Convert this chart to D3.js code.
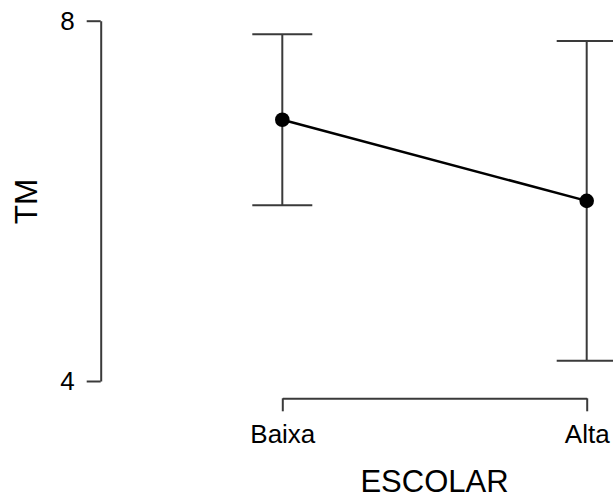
<!DOCTYPE html>
<html>
<head>
<meta charset="utf-8">
<script src="https://cdn.jsdelivr.net/npm/d3@7"></script>
<style>
  html, body { margin: 0; padding: 0; background: #fff; }
  svg { display: block; font-family: "Liberation Sans", Arial, sans-serif; }
</style>
</head>
<body>
<script>
// Mean TM by education level with confidence intervals
const categories = ["Baixa", "Alta"];
const means = [6.9, 6.0];
const lower = [5.95, 4.225];
const upper = [7.85, 7.775];
const yTicks = [4, 8];

const width = 613, height = 500;
const svg = d3.select("body").append("svg")
  .attr("width", width).attr("height", height);

const x = d3.scalePoint().domain(categories).range([282.3, 586.7]);
const y = d3.scaleLinear().domain([4, 8]).range([381, 20.7]);

const axisColor = "#3a3a3a";

// Y axis
const gy = svg.append("g")
  .attr("transform", "translate(100.7,0)")
  .call(d3.axisLeft(y).tickValues(yTicks).tickFormat(d3.format("d"))
    .tickSize(14).tickSizeOuter(0).tickPadding(12));
gy.select(".domain").attr("stroke", axisColor).attr("stroke-width", 2);
gy.selectAll(".tick line").attr("stroke", axisColor).attr("stroke-width", 2);
gy.selectAll(".tick text").attr("font-size", 26).attr("fill", "#000")
  .attr("font-family", "Liberation Sans, Arial, sans-serif");

// X axis
const gx = svg.append("g")
  .attr("transform", "translate(0,398.3)")
  .call(d3.axisBottom(x).tickSize(13).tickSizeOuter(0).tickPadding(13));
gx.select(".domain").attr("stroke", axisColor).attr("stroke-width", 2);
gx.selectAll(".tick line").attr("stroke", axisColor).attr("stroke-width", 2);
gx.selectAll(".tick text").attr("font-size", 26).attr("fill", "#000")
  .attr("font-family", "Liberation Sans, Arial, sans-serif");

// Axis titles
svg.append("text")
  .attr("x", 434.5).attr("y", 492)
  .attr("text-anchor", "middle")
  .attr("font-size", 31)
  .text("ESCOLAR");

svg.append("text")
  .attr("transform", "translate(37,201.5) rotate(-90)")
  .attr("text-anchor", "middle")
  .attr("font-size", 31.5)
  .text("TM");

// Error bars
const capHalf = 30;
const bars = svg.append("g").attr("stroke", axisColor).attr("stroke-width", 2);
categories.forEach((c, i) => {
  const cx = x(c);
  bars.append("line").attr("x1", cx).attr("x2", cx)
    .attr("y1", y(lower[i])).attr("y2", y(upper[i]));
  bars.append("line").attr("x1", cx - capHalf).attr("x2", cx + capHalf)
    .attr("y1", y(upper[i])).attr("y2", y(upper[i]));
  bars.append("line").attr("x1", cx - capHalf).attr("x2", cx + capHalf)
    .attr("y1", y(lower[i])).attr("y2", y(lower[i]));
});

// Line connecting means
const line = d3.line().x((d, i) => x(categories[i])).y(d => y(d));
svg.append("path").datum(means)
  .attr("d", line)
  .attr("fill", "none").attr("stroke", "#000").attr("stroke-width", 2.5);

// Mean points
svg.append("g").selectAll("circle").data(means).join("circle")
  .attr("cx", (d, i) => x(categories[i]))
  .attr("cy", d => y(d))
  .attr("r", 7.3)
  .attr("fill", "#000");
</script>
</body>
</html>
